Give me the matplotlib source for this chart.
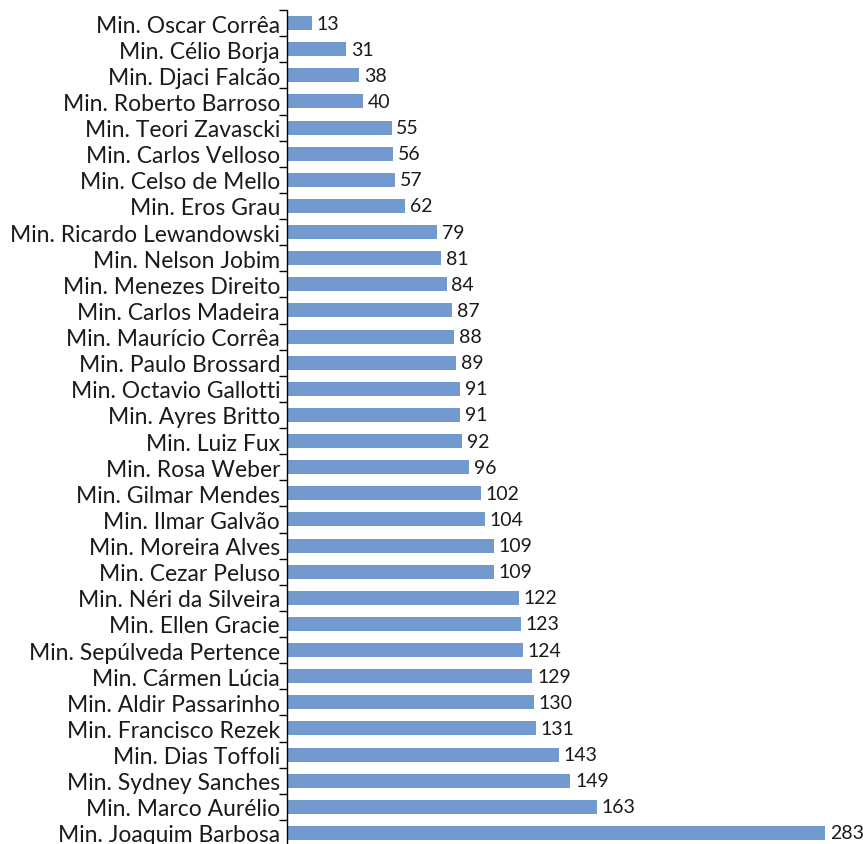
import matplotlib.pyplot as plt
from matplotlib.ticker import FixedLocator

ministros = [
    "Min. Oscar Corrêa", "Min. Célio Borja", "Min. Djaci Falcão", "Min. Roberto Barroso",
    "Min. Teori Zavascki", "Min. Carlos Velloso", "Min. Celso de Mello", "Min. Eros Grau",
    "Min. Ricardo Lewandowski", "Min. Nelson Jobim", "Min. Menezes Direito", "Min. Carlos Madeira",
    "Min. Maurício Corrêa", "Min. Paulo Brossard", "Min. Octavio Gallotti", "Min. Ayres Britto",
    "Min. Luiz Fux", "Min. Rosa Weber", "Min. Gilmar Mendes", "Min. Ilmar Galvão",
    "Min. Moreira Alves", "Min. Cezar Peluso", "Min. Néri da Silveira", "Min. Ellen Gracie",
    "Min. Sepúlveda Pertence", "Min. Cármen Lúcia", "Min. Aldir Passarinho", "Min. Francisco Rezek",
    "Min. Dias Toffoli", "Min. Sydney Sanches", "Min. Marco Aurélio", "Min. Joaquim Barbosa",
]
valores = [13, 31, 38, 40, 55, 56, 57, 62, 79, 81, 84, 87, 88, 89, 91, 91,
           92, 96, 102, 104, 109, 109, 122, 123, 124, 129, 130, 131, 143, 149, 163, 283]

plt.rcParams['font.family'] = ['Lato', 'DejaVu Sans']

fig = plt.figure(figsize=(8.63, 8.45), dpi=100)
ax = fig.add_axes([287 / 863, -2 / 845, 1 - 287 / 863, 1 - 9 / 845])

pos = list(range(len(ministros)))
ax.barh(pos, valores, height=0.54, color='#729ACF')
for p, v in zip(pos, valores):
    ax.text(v + 2.5, p, str(v), va='center', ha='left', fontsize=14, color='#1a1a1a')

ax.set_ylim(len(ministros) - 0.5, -0.5)
ax.set_xlim(0, 303)
ax.set_yticks(pos)
ax.set_yticklabels(ministros, fontsize=16.5, color='#1a1a1a')
ax.tick_params(axis='y', which='major', length=0, pad=5)
ax.yaxis.set_minor_locator(FixedLocator([p - 0.5 for p in pos] + [len(pos) - 0.5]))
ax.tick_params(axis='y', which='minor', length=6, width=1, color='black')
ax.set_xticks([])
for s in ['top', 'right', 'bottom']:
    ax.spines[s].set_visible(False)
ax.spines['left'].set_linewidth(1)

fig.savefig('out.png', dpi=100)
